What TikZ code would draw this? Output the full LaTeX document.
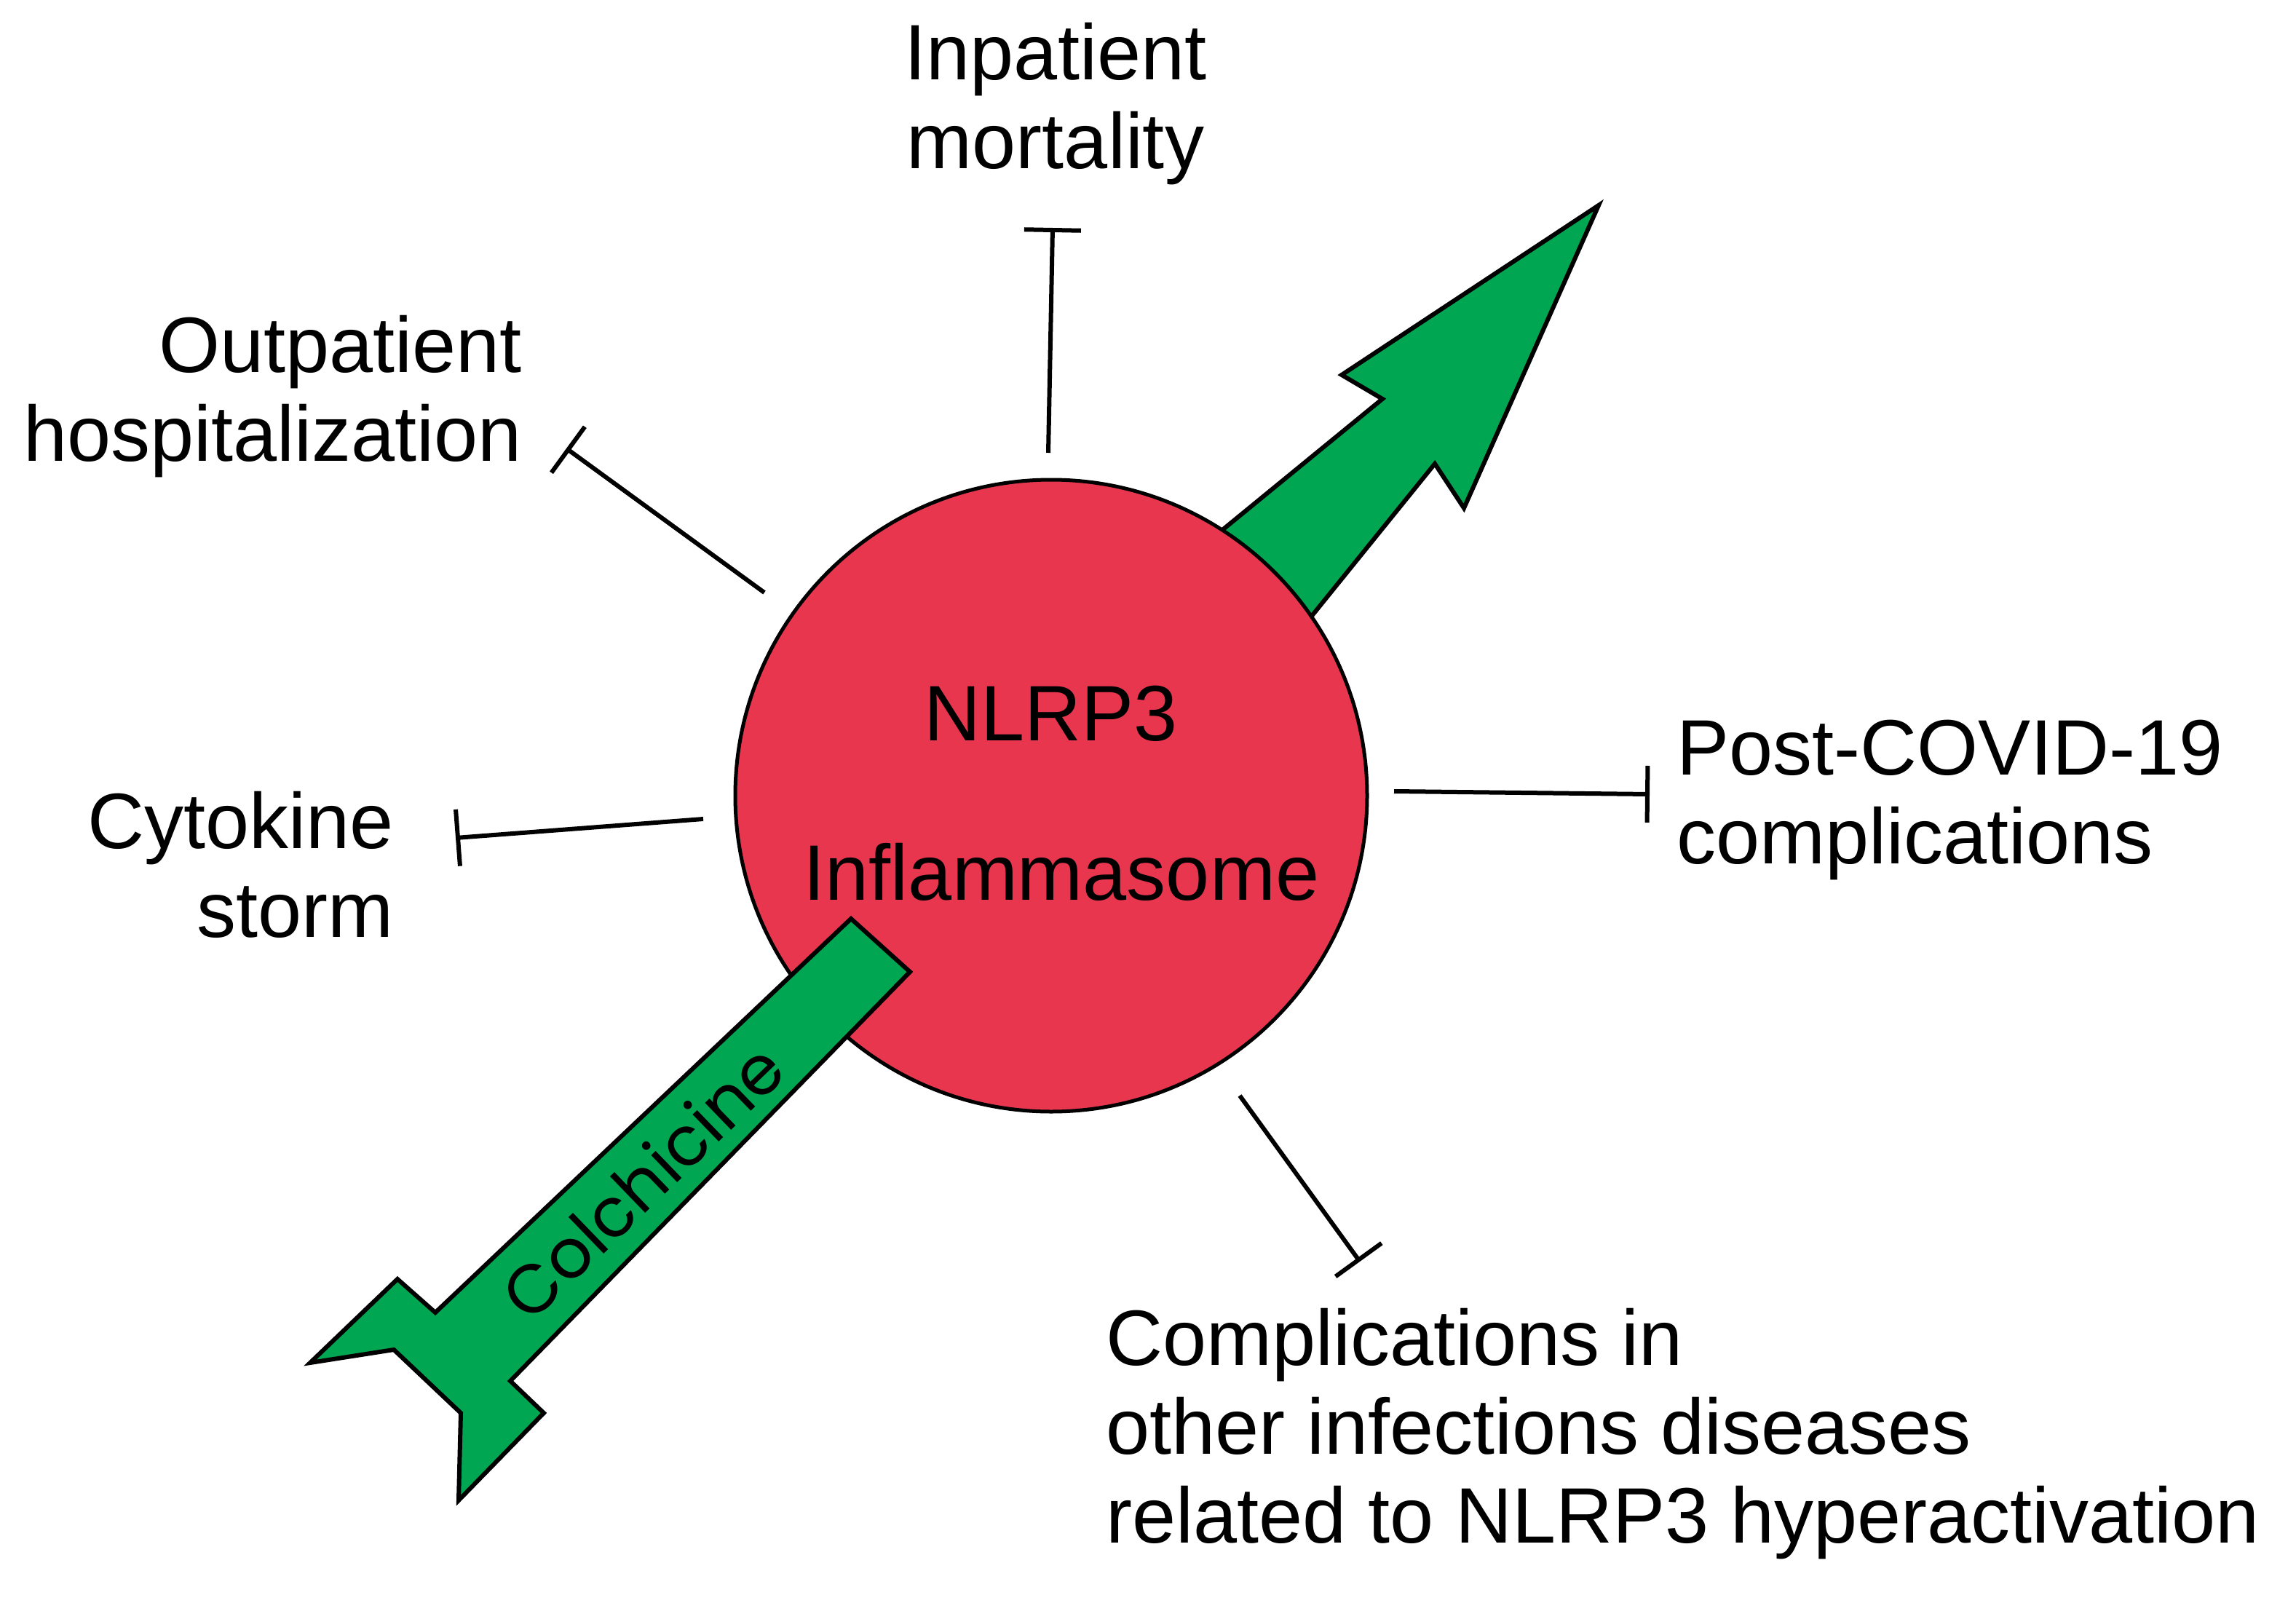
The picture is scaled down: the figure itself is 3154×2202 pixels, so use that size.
\documentclass[tikz,border=0pt]{standalone}
\usepackage{fontspec}
\setmainfont{Liberation Sans}
\newfontfamily\popp{Poppins}
\usetikzlibrary{arrows.meta}
\definecolor{nred}{HTML}{E8364F}
\definecolor{ngreen}{HTML}{00A651}
\begin{document}
\begin{tikzpicture}[x=1pt,y=-1pt,
  lbl/.style={font=\fontsize{108}{122}\selectfont, inner sep=0pt},
  inh/.style={line width=6pt, -{Bar[width=78pt,line width=6pt]}},
  gshape/.style={fill=ngreen, draw=black, line width=6pt, line join=miter}]
\useasboundingbox (0,0) rectangle (3154,2202);
% top-right arrow
\draw[gshape] (1640,760) -- (1899,548) -- (1843,515) -- (2196,282) -- (2011,698) -- (1971,637) -- (1722,945) -- cycle;
% circle
\node[circle, fill=nred, draw=black, line width=5pt, minimum size=868pt, inner sep=0pt] (c) at (1444,1093) {};
\node[lbl] (n1) at (1444,980) {NLRP3};
\node[lbl] (n2) at (1458,1198) {Inflammasome};
% colchicine
\draw[gshape] (1169,1262) -- (1250,1335) -- (701,1897) -- (747,1941) -- (630,2061) -- (633,1941) -- (541,1854) -- (426,1872) -- (546,1757) -- (598,1803) -- cycle;
\node[font=\popp\fontsize{94}{100}\selectfont, rotate=44, inner sep=0pt] (col) at (882,1622) {Colchicine};
% labels
\node[lbl, align=center] (inp) at (1450,143) {Inpatient\\mortality};
\node[lbl, align=right, anchor=east] (outp) at (717,545) {Outpatient\\hospitalization};
\node[lbl, align=right, anchor=east] (cyt) at (541,1188) {Cytokine\\storm};
\node[lbl, align=left, anchor=west] (post) at (2303,1099) {Post-COVID-19\\complications};
\node[lbl, align=left, anchor=west] (comp) at (1519,1970) {Complications in\\other infections diseases\\related to NLRP3 hyperactivation};
% inhibitor connectors
\coordinate (a1) at (1440,622); \coordinate (b1) at (1446,313);
\coordinate (a2) at (1050,814); \coordinate (b2) at (778,616);
\coordinate (a3) at (966,1125); \coordinate (b3) at (626,1151);
\coordinate (a4) at (1915,1087); \coordinate (b4) at (2266,1091);
\coordinate (a5) at (1703,1505); \coordinate (b5) at (1868,1733);
\draw[inh] (a1) -- (b1);
\draw[inh] (a2) -- (b2);
\draw[inh] (a3) -- (b3);
\draw[inh] (a4) -- (b4);
\draw[inh] (a5) -- (b5);
\end{tikzpicture}
\end{document}
